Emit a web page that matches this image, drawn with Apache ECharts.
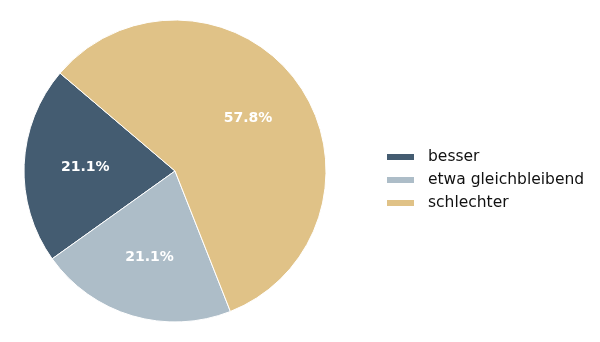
<!DOCTYPE html>
<html><head><meta charset="utf-8">
<script src="https://cdn.jsdelivr.net/npm/echarts@6/dist/echarts.min.js"></script>
<style>html,body{margin:0;padding:0;background:#fff}#c{width:600px;height:342px}</style>
</head><body><div id="c"></div>
<script>
const categories = ['besser', 'etwa gleichbleibend', 'schlechter'];
const values = [21.1, 21.1, 57.8];
const colors = ['#445c71', '#adbdc8', '#e0c287'];

const R = 151;
const center = [175, 171];
const startAngle = 139.6;
const data = categories.map((n, i) => ({ name: n, value: values[i], itemStyle: { color: colors[i] } }));
const labelData = categories.map((n, i) => ({ name: n, value: values[i] }));

const chart = echarts.init(document.getElementById('c'), null, { renderer: 'canvas' });
chart.setOption({
  animation: false,
  legend: {
    orient: 'vertical',
    left: 380, top: 144,
    itemWidth: 29, itemHeight: 8, itemGap: 7,
    icon: 'rect',
    textStyle: { fontFamily: 'DejaVu Sans', fontSize: 15.5, color: '#111111', padding: [0, 0, 0, 8] },
    data: categories.map((n, i) => ({ name: n, itemStyle: { color: colors[i] } }))
  },
  series: [
    {
      type: 'pie', center: center, radius: [0, R],
      startAngle: startAngle, clockwise: false,
      label: { show: false }, labelLine: { show: false },
      itemStyle: { borderColor: '#ffffff', borderWidth: 1 },
      emphasis: { disabled: true },
      data: data
    },
    {
      type: 'pie', center: center, radius: [0.15 * R, R],
      startAngle: startAngle, clockwise: false,
      silent: true, legendHoverLink: false,
      itemStyle: { color: 'rgba(0,0,0,0)' },
      label: {
        show: true, position: 'inside',
        formatter: p => p.value.toFixed(1) + '%',
        color: '#ffffff', fontFamily: 'DejaVu Sans', fontWeight: 'bold', fontSize: 14
      },
      labelLine: { show: false },
      data: labelData
    }
  ]
});
</script></body></html>
